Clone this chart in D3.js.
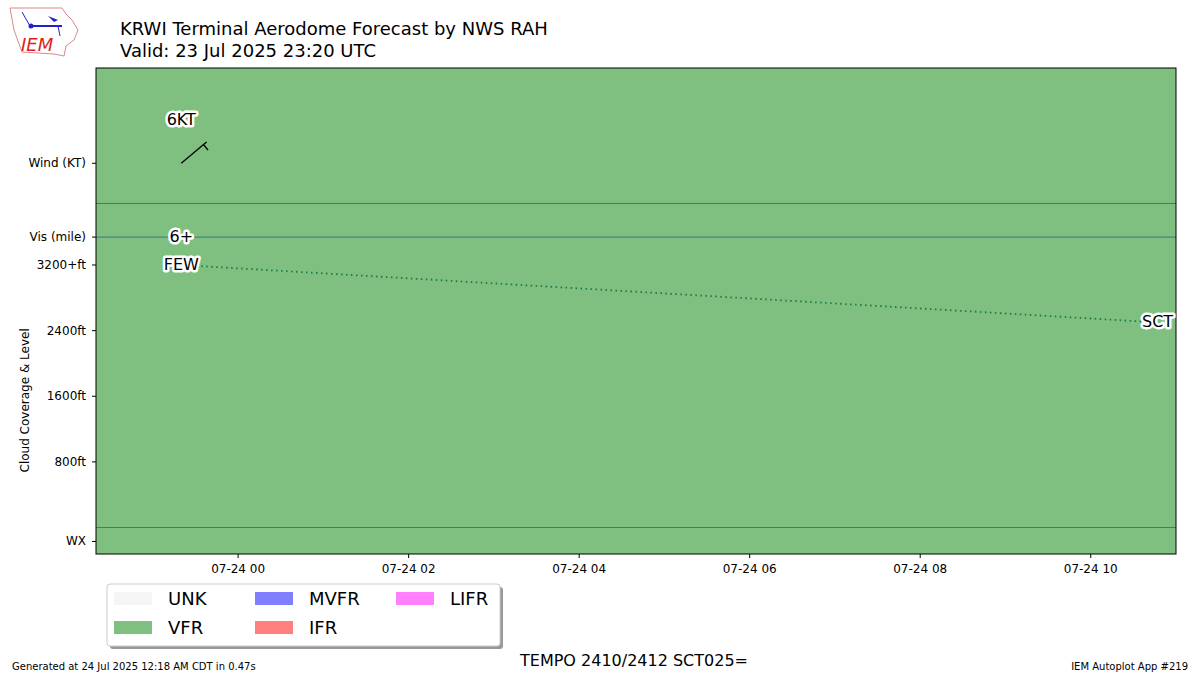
<!DOCTYPE html><html><head><meta charset="utf-8"><script src="https://cdn.jsdelivr.net/npm/d3@7"></script>
<style>body{margin:0;background:#fff}text{font-family:"DejaVu Sans",sans-serif}</style></head><body>
<svg id="c" width="1200" height="675"></svg>
<script>
const timeStart = "2025-07-23T22:20Z", timeEnd = "2025-07-24T11:00Z";
const xTicks = ["2025-07-24T00:00Z","2025-07-24T02:00Z","2025-07-24T04:00Z","2025-07-24T06:00Z","2025-07-24T08:00Z","2025-07-24T10:00Z"];
const cloudTimes = ["2025-07-23T23:20Z","2025-07-24T10:47Z"];
const cloudLevels = [3200, 2500];
const cloudCover = ["FEW","SCT"];
const windTime = "2025-07-23T23:20Z", windSpeed = 6, windDir = 230;
const visText = "6+";
const yTickVals = [800,1600,2400,3200];
const yTickLabels = ["800ft","1600ft","2400ft","3200+ft"];
const rowLevels = {wind:4440, vis:3540, visTop:3950, cloudTop:3540, wxTop:0, wx:-170};
const legendCats = ["UNK","VFR","MVFR","IFR","LIFR"];
const legendCols = ["#f5f5f5","#7fbf7f","#7f7fff","#ff7f7f","#ff7fff"];

const svg=d3.select("#c");
const L=96,R=1176,T=68,B=554;
const x=d3.scaleUtc().domain([new Date(timeStart),new Date(timeEnd)]).range([L,R]);
const y=d3.scaleLinear().domain([0,3200]).range([527.5,265]);
svg.append("rect").attr("x",L).attr("y",T).attr("width",R-L).attr("height",B-T).attr("fill","#7fbf7f");
svg.append("line").attr("x1",L).attr("x2",R).attr("y1",y(rowLevels.visTop)).attr("y2",y(rowLevels.visTop)).attr("stroke","#3d6b3d").attr("stroke-width",0.8);
svg.append("line").attr("x1",L).attr("x2",R).attr("y1",y(rowLevels.cloudTop)).attr("y2",y(rowLevels.cloudTop)).attr("stroke","#2f5f8f").attr("stroke-width",0.8);
svg.append("line").attr("x1",L).attr("x2",R).attr("y1",y(rowLevels.wxTop)).attr("y2",y(rowLevels.wxTop)).attr("stroke","#3d6b3d").attr("stroke-width",0.8);
svg.append("rect").attr("x",L).attr("y",T).attr("width",R-L).attr("height",B-T).attr("fill","none").attr("stroke","#000");
// x axis
const xa=svg.append("g");
xTicks.forEach(t=>{const px=x(new Date(t));
 xa.append("line").attr("x1",px).attr("x2",px).attr("y1",B).attr("y2",B+4).attr("stroke","#000");
 xa.append("text").attr("x",px).attr("y",B+19).attr("text-anchor","middle").attr("font-size",12).text(d3.utcFormat("%m-%d %H")(new Date(t)));});
// y axis
const yt=[...yTickVals.map((v,i)=>[v,yTickLabels[i]]),[rowLevels.wind,"Wind (KT)"],[rowLevels.vis,"Vis (mile)"],[rowLevels.wx,"WX"]];
yt.forEach(([v,l])=>{const py=y(v);
 svg.append("line").attr("x1",L-4).attr("x2",L).attr("y1",py).attr("y2",py).attr("stroke","#000");
 svg.append("text").attr("x",L-10).attr("y",py+4).attr("text-anchor","end").attr("font-size",12).text(l);});
svg.append("text").attr("transform",`translate(29,${y(1550)}) rotate(-90)`).attr("text-anchor","middle").attr("font-size",12).text("Cloud Coverage & Level");
// cloud line
const pts=cloudTimes.map((t,i)=>[x(new Date(t)),y(cloudLevels[i])]);
svg.append("path").attr("d",d3.line()(pts)).attr("stroke","#1a7a4a").attr("stroke-width",1.8).attr("stroke-dasharray","1.5,3.5").attr("fill","none");
function halo(px,py,txt,anchor){
 svg.append("text").attr("x",px).attr("y",py).attr("text-anchor",anchor).attr("font-size",16).attr("stroke","#fff").attr("stroke-width",5).attr("stroke-linejoin","round").text(txt);
 svg.append("text").attr("x",px).attr("y",py).attr("text-anchor",anchor).attr("font-size",16).text(txt);}
pts.forEach((p,i)=>halo(p[0],p[1]+5,cloudCover[i],"middle"));
const wx=x(new Date(windTime));
halo(wx,y(rowLevels.vis)+5,visText,"middle");
halo(wx,125,windSpeed+"KT","middle");
// wind barb
const wy=y(rowLevels.wind);
const a=(windDir-180)*Math.PI/180;
const len=33, ex=wx+len*Math.sin(a), ey=wy-len*Math.cos(a);
svg.append("line").attr("x1",wx).attr("y1",wy).attr("x2",ex).attr("y2",ey).attr("stroke","#000").attr("stroke-width",1.3);
const fx=wx+(len-4)*Math.sin(a), fy=wy-(len-4)*Math.cos(a);
svg.append("line").attr("x1",fx).attr("y1",fy).attr("x2",fx+7*Math.cos(a)).attr("y2",fy+7*Math.sin(a)).attr("stroke","#000").attr("stroke-width",1.3);
// titles
svg.append("text").attr("x",120).attr("y",35).attr("font-size",18).text("KRWI Terminal Aerodome Forecast by NWS RAH");
svg.append("text").attr("x",120).attr("y",57).attr("font-size",18).text("Valid: 23 Jul 2025 23:20 UTC");
// logo
const lg=svg.append("g");
lg.append("path").attr("d","M10,8 L62,8 L66,14 L72,20 L78,30 L74,40 L66,46 L64,56 L54,54 L22,52 L14,30 Z").attr("fill","#fff").attr("stroke","#d88").attr("stroke-width",1);
lg.append("line").attr("x1",30).attr("y1",26).attr("x2",62).attr("y2",26).attr("stroke","#22c").attr("stroke-width",2);
lg.append("circle").attr("cx",31).attr("cy",26).attr("r",2.5).attr("fill","#22c");
lg.append("path").attr("d","M48,16 L58,20 L54,22 Z").attr("fill","#22c");
lg.append("line").attr("x1",22).attr("y1",12).attr("x2",30).attr("y2",26).attr("stroke","#22c");
lg.append("line").attr("x1",58).attr("y1",26).attr("x2",60).attr("y2",36).attr("stroke","#22c");
lg.append("text").attr("x",21).attr("y",51).attr("font-family","Liberation Serif").attr("font-style","italic").attr("font-size",18).attr("fill","#d22").text("IEM");
// legend
svg.append("rect").attr("x",110).attr("y",587).attr("width",393).attr("height",62).attr("rx",3).attr("fill","#999");
svg.append("rect").attr("x",107).attr("y",584).attr("width",393).attr("height",62).attr("rx",3).attr("fill","#fff").attr("stroke","#ccc");
legendCats.forEach((c,i)=>{const col=Math.floor(i/2),row=i%2;const lx=114+col*141,ly=592+row*29;
 svg.append("rect").attr("x",lx).attr("y",ly).attr("width",38).attr("height",13).attr("fill",legendCols[i]);
 svg.append("text").attr("x",lx+54).attr("y",ly+13).attr("font-size",18).text(c);});
svg.append("text").attr("x",634).attr("y",666).attr("text-anchor","middle").attr("font-size",16).text("TEMPO 2410/2412 SCT025=");
svg.append("text").attr("x",12).attr("y",670).attr("font-size",10).text("Generated at 24 Jul 2025 12:18 AM CDT in 0.47s");
svg.append("text").attr("x",1188).attr("y",670).attr("text-anchor","end").attr("font-size",10).text("IEM Autoplot App #219");
</script></body></html>
